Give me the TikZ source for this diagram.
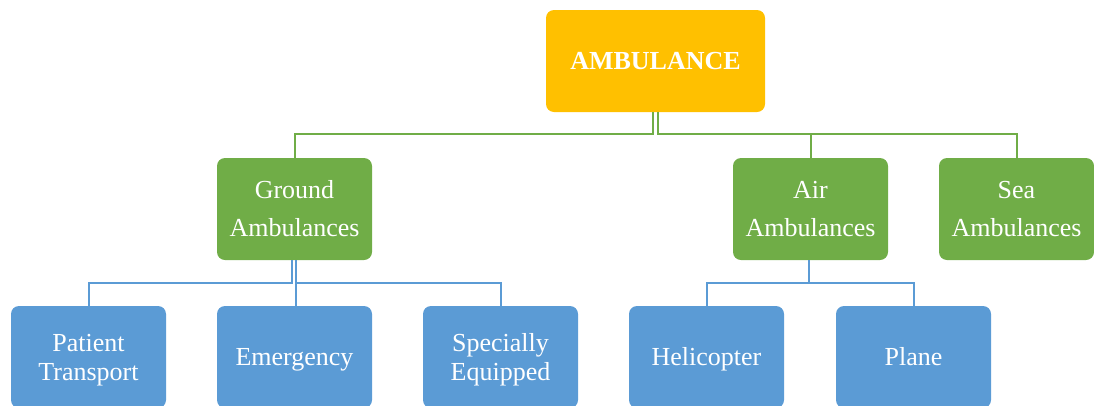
\documentclass[tikz,border=0pt]{standalone}
\usepackage{fontspec}
\setmainfont{Liberation Serif}
\definecolor{ambor}{HTML}{FFC000}
\definecolor{ambgr}{HTML}{70AD47}
\definecolor{ambbl}{HTML}{5B9BD5}
\begin{document}
\begin{tikzpicture}[x=1pt,y=-1pt,
  box/.style={rounded corners=8pt, minimum width=155pt, minimum height=102pt, inner sep=0pt, text=white, align=center},
  topbox/.style={box, fill=ambor, minimum width=219pt, font=\fontsize{26pt}{38pt}\selectfont\bfseries},
  grbox/.style={box, fill=ambgr, font=\fontsize{26pt}{38pt}\selectfont},
  blbox/.style={box, fill=ambbl, font=\fontsize{26pt}{29pt}\selectfont},
  blone/.style={blbox, text height=17pt, text depth=0pt},
  bltwo/.style={blbox, text height=47.5pt, text depth=0pt},
  grline/.style={draw=ambgr, line width=2pt},
  blline/.style={draw=ambbl, line width=2pt}]
\useasboundingbox (0,0) rectangle (1094,405);
\begin{scope}
\clip (0,0) rectangle (1094,405);
\node[topbox] (amb) at (655.5,61) {AMBULANCE};
\node[grbox] (ground) at (294.5,209) {Ground\\Ambulances};
\node[grbox] (air) at (810.5,209) {Air\\Ambulances};
\node[grbox] (sea) at (1016.5,209) {Sea\\Ambulances};
\node[bltwo] (patient) at (88.5,357) {Patient\\Transport};
\node[blone] (emerg) at (294.5,357) {Emergency};
\node[bltwo] (spec) at (500.5,357) {Specially\\Equipped};
\node[blone] (heli) at (706.5,357) {Helicopter};
\node[blone] (plane) at (913.5,357) {Plane};
\draw[grline] ([xshift=-3pt]amb.south) -- ++(0,22) -| (ground.north);
\draw[grline] ([xshift=2pt]amb.south) -- ++(0,22) -| (air.north);
\draw[grline] ([xshift=2pt]amb.south) -- ++(0,22) -| (sea.north);
\draw[blline] ([xshift=-3pt]ground.south) -- ++(0,23) -| (patient.north);
\draw[blline] ([xshift=1.5pt]ground.south) -- ++(0,23) -| ([xshift=1.5pt]emerg.north);
\draw[blline] ([xshift=1.5pt]ground.south) -- ++(0,23) -| (spec.north);
\draw[blline] ([xshift=-1.5pt]air.south) -- ++(0,23) -| (heli.north);
\draw[blline] ([xshift=-1.5pt]air.south) -- ++(0,23) -| (plane.north);
\end{scope}
\end{tikzpicture}
\end{document}
